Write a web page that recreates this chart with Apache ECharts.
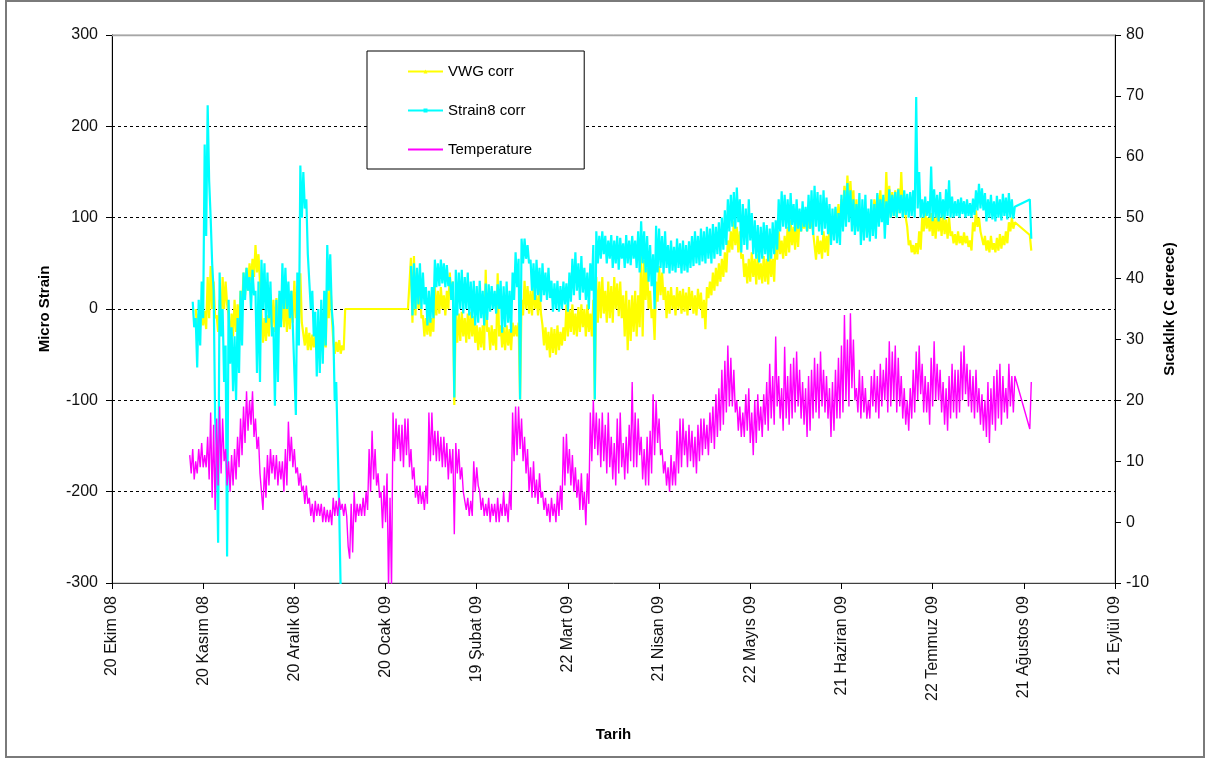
<!DOCTYPE html>
<html>
<head>
<meta charset="utf-8">
<title>Micro Strain / Sıcaklık</title>
<script src="https://cdn.jsdelivr.net/npm/echarts@6/dist/echarts.min.js"></script>
<style>
  html, body { margin: 0; padding: 0; background: #fff; }
  #chart { width: 1210px; height: 760px; }
</style>
</head>
<body>
<div id="chart"></div>
<script>
// Date axis: days counted from 20 Ekim 2008, one major tick every 30.5 days
const xTickLabels = ['20 Ekim 08', '20 Kasım 08', '20 Aralık 08', '20 Ocak 09', '19 Şubat 09', '22 Mart 09',
  '21 Nisan 09', '22 Mayıs 09', '21 Haziran 09', '22 Temmuz 09', '21 Ağustos 09', '21 Eylül 09'];
const TICK_DAYS = 30.5;
const STEP = 0.5; // readings every half day (day / night)

// Temperature (°C), from day 26
const tempStart = 26;
const tempValues = [
  11,8, 12,7, 10,8, 12,9, 13,9,
  11,9, 14,7, 18,4, 16,2, 17,6,
  19,8, 17,10, 12,6, 10,5, 11,6,
  12,7, 14,9, 17,11, 19,13, 21.5,15,
  20,16, 21.5,14, 17,12, 14,8, 8,2,
  9,4, 11,6, 12,8, 11,7, 11,6,
  10,7, 10,5, 12,6, 16.5,10, 14,9,
  12,8, 9,6, 8,5, 6,3, 6,3,
  4,1, 3,0, 3.5,1, 3,1, 3,0,
  2.5,0, 2,0, 2,-0.5, 4,1, 3.5,1,
  4,2, 3,1, 3,1, -4,-6, 3,-5,
  5,0, 3,1, 3,1, 4,1, 5,2,
  12,5, 15,7, 12,6, 8,4, 5,-1,
  6,0, 8,-11, 4,-11, 18,10, 17,12,
  16,10, 16,9, 17,11, 17,9, 12,7,
  9,4, 6,3, 6,3, 5,2, 6,3,
  18,10, 18,11, 15,10, 15,10, 14,9,
  14,9, 13,7, 12,8, 12,-2, 13,8,
  12,7, 9,5, 5,2, 4,1, 3.5,1,
  10,5, 9,6, 5,2, 4,1, 3,1,
  4,0, 3,1, 3,0, 4,0, 3,1,
  5,1, 3,0, 5,2, 18,10, 19,11,
  19,12, 17,10, 14,8, 12,5, 9,4,
  10,4, 7,3, 8,4, 5,2, 4,1,
  3,0, 4,1, 3,0, 5,1, 6,2,
  14,6, 14.5,8, 12,6, 11,5, 9,4,
  7,2, 8,2, 5,-0.5, 8,3, 18,10,
  20,12, 18,11, 17,9, 18,10, 16,8,
  18,9, 14,7, 13,6, 17,8, 18,9,
  13,7, 14,8, 16,10, 23,9, 18,9,
  17,11, 14,7, 12,6, 14,6, 15,8,
  21,11, 20,13, 17,11, 12,8, 10,6,
  9,5, 11,6, 10,6, 15,8, 17,9,
  17,11, 15,9, 16,10, 15,9, 14,8,
  16,10, 17,11, 17,12, 16,11, 18,13,
  19,12, 21,14, 22,15, 25,16, 26.5,18,
  29,19, 27,19, 25,18, 20,15, 19,14,
  18,14, 21,15, 22,13, 18,11, 20,13,
  21,15, 19,14, 21,16, 23,15, 26,17,
  24,16, 30.5,19, 24,17, 22,15, 28.8,17,
  24,16, 26,17, 27,18, 28,19, 25,17,
  23,16, 22,14, 24,15, 25,17, 27,18,
  26,17, 28,19, 25,18, 24,17, 22,14,
  23,15, 25,17, 27,17, 29,18, 34,20,
  30,19, 34.3,22, 30,20, 22,18, 25,17,
  24,18, 22,17, 20,17, 24,19, 25,18,
  24,17, 26,19, 25,20, 27,18, 29.7,19,
  28,20, 29,18, 27,19, 24,17, 22,16,
  20,15, 22,17, 25,18, 28,20, 29,21,
  26,18, 24,18, 23,16, 27,19, 29.7,20,
  26,20, 25,18, 23,16, 22,15, 24,17,
  26,18, 25,17, 25,18, 28,20, 29,21,
  26,19, 25,18, 24,17, 25,18, 22,16,
  21,15, 20,14, 23,13, 22,16, 24,15,
  25,17, 26,16, 24,18, 22,17, 26,19,
  24,18,
  24, null, null, null, null, null, null, null, null, null, 15.3, 23
];

// VWG corr (micro strain), from day 28
const vwgStart = 28;
const vwgValues = [
  0,-22, -5,-20, 0,-18, -2,-22, 35,-10,
  47,0, 30,-10, -7,-25, 10,-20, 35,0,
  30,5, -7,-34, -5,-30, 10,-25, 5,-20,
  20,0, 40,15, 45,20, 50,30, 55,35,
  70,40, 60,30, -7,-37, -10,-35, -7,-30,
  16,-20, 10,-25, 12,-30, 16,-15, 10,-20,
  15,-25, 5,-22, 20,-15, 31,-10, 25,-20,
  39,-15, -15,-40, -20,-45, -26,-45, -28,-42,
  -30,-45, -26,-40, -28,-45, -30,-42, 20,-10,
  35,-7, -34,-49, -36,-47, -34,-49, -40,-45,
  0,0, 0,0, 0,0, 0,0, 0,0, 0,0, 0,0, 0,0, 0,0, 0,0, 0,0,
  0,0, 0,0, 0,0, 0,0, 0,0, 0,0, 0,0, 0,0, 0,0, 0,0, 0,0,
  56,-15, 58,-7, 40,0, 30,-10, -7,-30,
  -10,-28, -7,-30, -10,-25, 24,-7, 20,-5,
  24,0, 15,-7, 20,0, 40,10, 30,-105,
  -3,-37, -5,-35, -3,-30, -10,-37, -5,-33,
  -3,-30, -8,-37, -18,-45, -20,-42, -18,-45,
  43,-25, -20,-45, -18,-40, -22,-45, 39,-30,
  -18,-42, -20,-45, -18,-40, -22,-45, -15,-30,
  -18,-30, -15,-99, 10,-7, 31,0, 25,-5,
  20,-7, 28,0, 15,-7, 20,-5, -18,-40,
  -20,-45, -25,-53, -20,-48, -22,-50, -18,-45,
  -25,-40, -20,-35, 5,-30, 0,-25, 5,-28,
  -5,-30, 2,-25, 5,-20, 0,-30, 5,-25,
  -5,-30, 10,-99, 35,-15, 30,-10, 35,-5,
  20,-15, 30,-10, 25,-15, 35,0, 28,-8,
  30,-10, 15,-30, 20,-45, 10,-35, 15,-25,
  20,-30, 15,-20, 58,-30, 54,10, 45,0,
  20,-10, 0,-34, 30,8, 47,15, 40,10,
  24,-10, 20,-5, 24,0, 15,-7, 24,0,
  20,-5, 22,-3, 18,-7, 24,0, 20,-5,
  15,-7, 22,0, 18,-10, 10,-22, 24,12,
  30,15, 40,20, 45,25, 50,30, 55,35,
  62,40, 75,62, 85,65, 96,70, 90,62,
  85,55, 60,35, 50,28, 55,30, 62,35,
  55,27, 60,32, 50,28, 58,30, 55,27,
  62,35, 55,30, 80,54, 85,60, 75,55,
  80,58, 90,62, 97,70, 90,65, 95,68,
  100,85, 98,88, 100,85, 97,88, 100,85,
  85,54, 80,60, 75,55, 85,62, 80,58,
  95,85, 100,88, 110,90, 115,92, 120,108,
  135,110, 146,115, 140,110, 130,85, 120,90,
  100,85, 98,88, 100,85, 95,85, 100,88,
  120,100, 125,102, 130,105, 122,100, 150,105,
  135,100, 128,102, 130,100, 132,105, 150,110,
  125,100, 90,70, 75,62, 70,60, 72,60,
  85,65, 100,85, 108,88, 100,85, 105,80,
  100,77, 108,85, 100,80, 104,82, 98,77,
  100,80, 85,72, 82,70, 85,72, 80,70,
  84,72, 80,68, 75,64, 95,85, 108,90,
  100,85, 85,70, 80,64, 75,62, 80,65,
  72,62, 78,64, 82,66, 80,70, 85,72,
  95,85, 100,88,
  95, null, null, null, null, null, null, null, null, null, 81, 64
];

// Strain8 corr (micro strain): first run from day 27, second run from day 100
const strain8EarlyStart = 27;
const strain8EarlyValues = [
  8,-20, -10,-64, 10,-40, 30,-10, 180,80,
  223,140, 100,50, 20,-120, -150,-256, 40,-30,
  0,-80, -40,-271, 10,-60, -20,-90, -30,-100,
  -10,-70, 20,-40, 40,10, 45,20, 35,0,
  43,15, 20,-70, 30,-80, 54,0, 50,-15,
  40,-10, 30,-30, -20,-106, 10,-80, 20,-20,
  50,0, 45,0, 30,-10, 20,-20, -20,-116,
  40,-40, 157,100, 150,110, 120,60, 60,0,
  20,-30, -3,-74, 0,-70, 10,-60, 20,-40,
  70,20, 60,0, -20,-100, -80,-150, -220,-310,
  -310
];
const strain8LateStart = 100;
const strain8LateValues = [
  47,-7, 50,0, 45,5, 50,0, 40,5,
  24,-18, 20,-15, 24,-10, 54,24, 50,25,
  54,28, 50,24, 48,25, 35,10, 30,-97,
  43,-7, 40,0, 43,-5, 35,0, 40,-7,
  30,-10, 31,-18, 25,-15, 31,-10, 20,-18,
  28,-12, 27,-3, 25,0, 20,-5, 27,0,
  31,-26, 25,-20, 30,-15, 20,-26, 40,10,
  62,24, 55,-99, 77,50, 77,55, 70,50,
  54,20, 50,10, 54,15, 45,8, 50,15,
  40,10, 45,12, 31,-3, 28,0, 31,-3,
  25,0, 30,5, 28,-3, 40,8, 55,15,
  62,20, 50,10, 58,18, 45,10, 40,0,
  50,20, 70,-99, 85,50, 80,55, 85,60,
  80,50, 75,55, 81,45, 75,50, 80,43,
  78,55, 72,45, 81,50, 75,48, 80,55,
  75,45, 85,40, 96,50, 85,40, 80,30,
  70,25, 60,0, 91,40, 88,45, 80,39,
  85,45, 70,39, 75,42, 68,40, 77,45,
  72,39, 75,42, 70,40, 74,45, 80,47,
  85,50, 80,48, 88,52, 85,50, 90,55,
  88,50, 93,55, 90,60, 95,58, 100,65,
  108,70, 120,85, 125,90, 128,88, 133,95,
  120,62, 115,70, 110,65, 120,75, 105,60,
  97,55, 92,51, 90,55, 95,60, 92,52,
  88,55, 95,60, 97,65, 120,85, 129,90,
  125,88, 120,85, 127,92, 115,85, 120,88,
  110,85, 118,90, 112,85, 125,88, 130,81,
  135,90, 128,85, 125,81, 130,88, 122,82,
  115,70, 110,75, 112,72, 105,70, 125,85,
  130,90, 138,95, 130,85, 120,81, 115,85,
  127,70, 120,75, 125,78, 110,74, 120,80,
  115,77, 127,90, 120,95, 125,77, 118,92,
  131,100, 125,102, 128,100, 131,105, 125,100,
  130,103, 126,100, 128,102, 130,100, 232,110,
  150,100, 120,100, 123,102, 118,100, 156,96,
  131,100, 125,96, 128,100, 120,98, 131,102,
  141,100, 123,100, 118,102, 120,100, 122,104,
  118,100, 120,102, 116,100, 121,103, 130,108,
  137,110, 132,108, 127,96, 120,100, 125,98,
  118,96, 124,100, 120,97, 126,102, 122,98,
  127,100, 120,99,
  112, null, null, null, null, null, null, null, null, null, 120, 77
];

// Turn a half-day value list into [day, value] points; missing readings are skipped
function toPoints(start, values) {
  const pts = [];
  values.forEach((v, i) => {
    if (v !== null) pts.push([start + i * STEP, v]);
  });
  return pts;
}

const FONT = 'Arial, "Liberation Sans", sans-serif';
const YELLOW = '#ffff00', CYAN = '#00ffff', MAGENTA = '#ff00ff';

const chart = echarts.init(document.getElementById('chart'), null, { renderer: 'canvas' });

const strainLine = (name, color, data, symbol) => ({
  name: name,
  type: 'line',
  xAxisIndex: 0,
  yAxisIndex: 0,
  data: data,
  showSymbol: false,
  symbol: symbol,
  symbolSize: 4,
  lineStyle: { color: color, width: 2.2 },
  itemStyle: { color: color },
  sampling: null,
  z: 2
});

chart.setOption({
  animation: false,
  backgroundColor: '#ffffff',
  textStyle: { fontFamily: FONT },
  graphic: [{
    type: 'rect',
    silent: true,
    z: 0,
    shape: { x: 6, y: 1, width: 1198, height: 756 },
    style: { fill: 'none', stroke: '#7a7a7a', lineWidth: 2 }
  }, {
    // plot-area top edge, drawn solid grey over the topmost dashed gridline
    type: 'line',
    silent: true,
    z: 5,
    shape: { x1: 112, y1: 35.5, x2: 1115, y2: 35.5 },
    style: { stroke: '#a6a6a6', lineWidth: 1.5 }
  }],
  grid: {
    left: 112, right: 95, top: 35, bottom: 177,
    show: true, borderColor: '#a6a6a6', borderWidth: 1, backgroundColor: 'transparent'
  },
  legend: {
    orient: 'vertical',
    left: 367, top: 51,
    padding: [13, 52, 12, 40],
    itemWidth: 35, itemHeight: 5, itemGap: 24,
    backgroundColor: '#ffffff',
    borderColor: '#000000', borderWidth: 1,
    textStyle: { fontSize: 15, color: '#000', fontFamily: FONT },
    data: ['VWG corr', 'Strain8 corr', { name: 'Temperature', itemStyle: { opacity: 0 } }],
    z: 6
  },
  xAxis: {
    type: 'value',
    min: 0, max: 11 * TICK_DAYS, interval: TICK_DAYS,
    name: 'Tarih',
    nameLocation: 'middle',
    nameGap: 144,
    nameTextStyle: { fontWeight: 'bold', fontSize: 15, color: '#000', fontFamily: FONT },
    axisLine: { show: true, onZero: false, lineStyle: { color: '#404040', width: 1 } },
    axisTick: { show: true, length: 6, lineStyle: { color: '#000' } },
    axisLabel: {
      rotate: 90, margin: 13, fontSize: 16, color: '#111', fontFamily: FONT,
      formatter: v => xTickLabels[Math.round(v / TICK_DAYS)] || ''
    },
    splitLine: { show: false }
  },
  yAxis: [{
    type: 'value',
    position: 'left',
    min: -300, max: 300, interval: 100,
    name: 'Micro Strain',
    nameLocation: 'middle', nameRotate: 90, nameGap: 60,
    nameTextStyle: { fontWeight: 'bold', fontSize: 15, color: '#000', fontFamily: FONT },
    axisLine: { show: true, onZero: false, lineStyle: { color: '#000', width: 1 } },
    axisTick: { show: true, length: 6, lineStyle: { color: '#000' } },
    axisLabel: { fontSize: 16, margin: 14, color: '#111', fontFamily: FONT },
    splitLine: { show: true, lineStyle: { color: '#000', width: 1, type: [3, 3] } }
  }, {
    type: 'value',
    position: 'right',
    min: -10, max: 80, interval: 10,
    name: 'Sıcaklık (C derece)',
    nameLocation: 'middle', nameRotate: 90, nameGap: 47,
    nameTextStyle: { fontWeight: 'bold', fontSize: 15, color: '#000', fontFamily: FONT },
    axisLine: { show: true, onZero: false, lineStyle: { color: '#000', width: 1 } },
    axisTick: { show: true, length: 6, lineStyle: { color: '#000' } },
    axisLabel: { fontSize: 16, margin: 11, color: '#111', fontFamily: FONT },
    splitLine: { show: false }
  }],
  series: [
    strainLine('VWG corr', YELLOW, toPoints(vwgStart, vwgValues), 'triangle'),
    strainLine('Strain8 corr', CYAN, toPoints(strain8EarlyStart, strain8EarlyValues), 'rect'),
    strainLine('Strain8 corr', CYAN, toPoints(strain8LateStart, strain8LateValues), 'rect'),
    {
      name: 'Temperature',
      type: 'line',
      xAxisIndex: 0,
      yAxisIndex: 1,
      data: toPoints(tempStart, tempValues),
      showSymbol: false,
      symbol: 'none',
      lineStyle: { color: MAGENTA, width: 1.4 },
      itemStyle: { color: MAGENTA },
      sampling: null,
      z: 3
    }
  ]
});
</script>
</body>
</html>
